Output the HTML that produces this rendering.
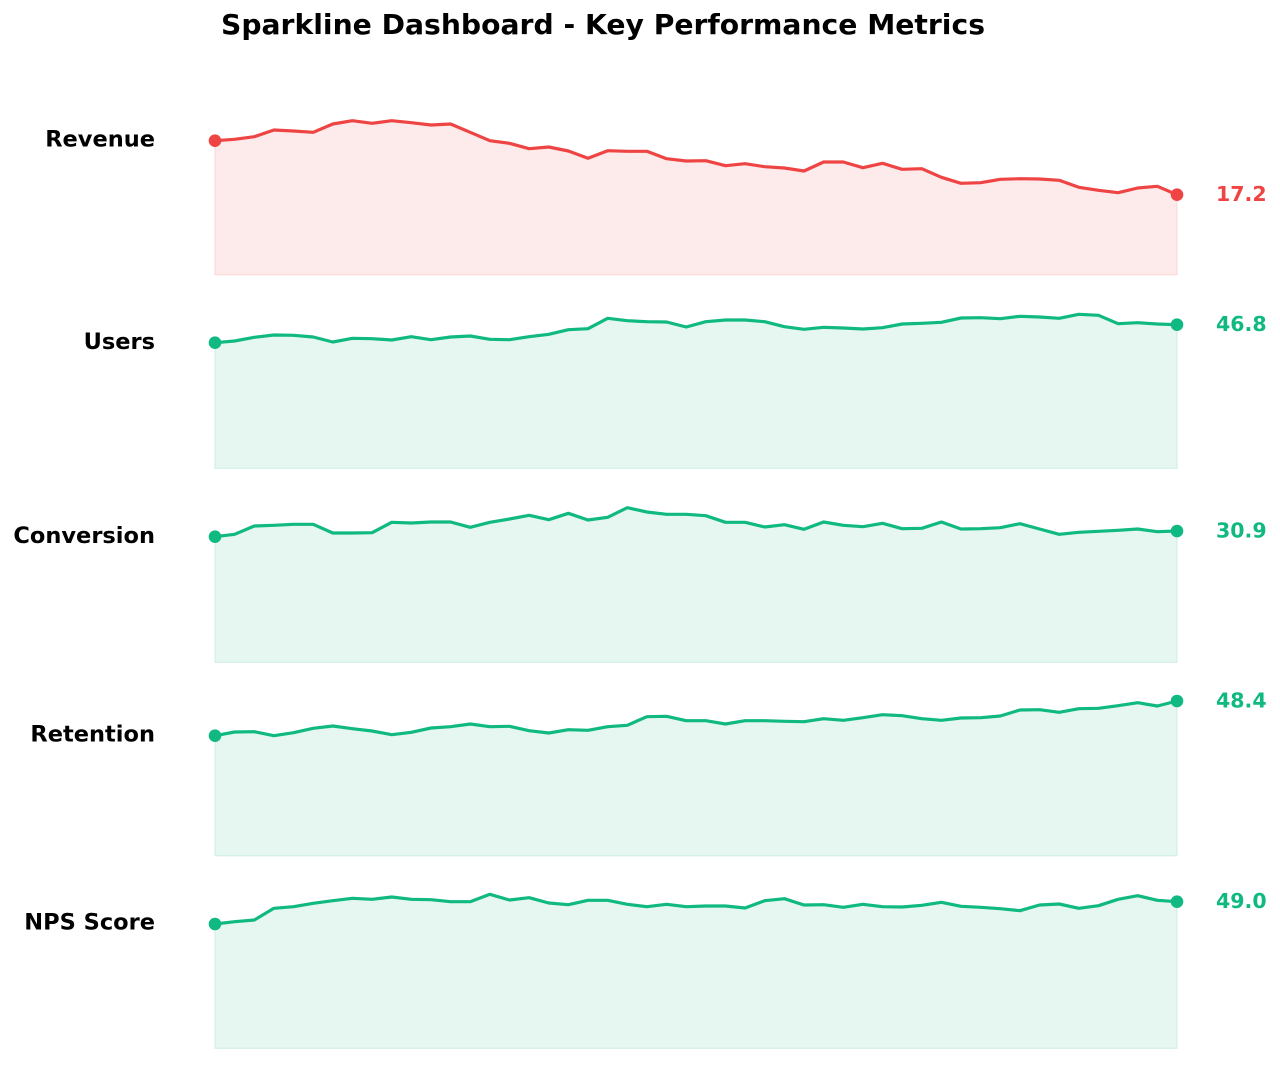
<!DOCTYPE html>
<html>
<head>
<meta charset="utf-8">
<style>
  html,body{margin:0;padding:0;background:#ffffff;}
  svg{display:block;}
  text{font-family:"DejaVu Sans","Liberation Sans",sans-serif;font-weight:bold;}
</style>
</head>
<body>
<svg width="1280" height="1070" viewBox="0 0 1280 1070" xmlns="http://www.w3.org/2000/svg">
  <rect x="0" y="0" width="1280" height="1070" fill="#ffffff"/>
  <text x="603" y="34" text-anchor="middle" font-size="27.5" fill="#000000" textLength="764" lengthAdjust="spacingAndGlyphs">Sparkline Dashboard - Key Performance Metrics</text>

  <!-- Revenue -->
  <polygon fill="#fdeaea" stroke="#fbd6d6" stroke-width="1" points="215.0,140.7 234.6,139.3 254.3,136.7 273.9,130 293.5,131 313.2,132.3 332.8,124 352.4,120.7 372.1,123.3 391.7,120.7 411.3,122.7 431.0,125 450.6,124 470.2,132.3 489.9,140.7 509.5,143.3 529.1,148.7 548.8,147 568.4,151 588.0,158.3 607.7,150.7 627.3,151.3 646.9,151.3 666.6,158.7 686.2,161 705.8,160.7 725.5,165.7 745.1,163.7 764.7,166.7 784.4,168 804.0,171 823.6,162 843.3,162 862.9,167.7 882.5,163.3 902.1,169.3 921.8,168.7 941.4,177.3 961.0,183.3 980.7,182.7 1000.3,179.3 1019.9,178.7 1039.6,179 1059.2,180.3 1078.8,187.3 1098.5,190.3 1118.1,192.7 1137.7,188 1157.4,186.3 1177.0,194.7 1177.0,274.7 215.0,274.7"/>
  <polyline fill="none" stroke="#ef4444" stroke-width="3.2" stroke-linejoin="round" stroke-linecap="round" points="215.0,140.7 234.6,139.3 254.3,136.7 273.9,130 293.5,131 313.2,132.3 332.8,124 352.4,120.7 372.1,123.3 391.7,120.7 411.3,122.7 431.0,125 450.6,124 470.2,132.3 489.9,140.7 509.5,143.3 529.1,148.7 548.8,147 568.4,151 588.0,158.3 607.7,150.7 627.3,151.3 646.9,151.3 666.6,158.7 686.2,161 705.8,160.7 725.5,165.7 745.1,163.7 764.7,166.7 784.4,168 804.0,171 823.6,162 843.3,162 862.9,167.7 882.5,163.3 902.1,169.3 921.8,168.7 941.4,177.3 961.0,183.3 980.7,182.7 1000.3,179.3 1019.9,178.7 1039.6,179 1059.2,180.3 1078.8,187.3 1098.5,190.3 1118.1,192.7 1137.7,188 1157.4,186.3 1177.0,194.7"/>
  <circle cx="215" cy="140.7" r="6.3" fill="#ef4444"/>
  <circle cx="1177" cy="194.7" r="6.3" fill="#ef4444"/>
  <text x="155" y="146.5" text-anchor="end" font-size="22.5" fill="#000000">Revenue</text>
  <text x="1216" y="201" font-size="20.5" fill="#ef4444">17.2</text>

  <!-- Users -->
  <polygon fill="#e5f7f0" stroke="#cdeee2" stroke-width="1" points="215.0,342.7 234.6,341 254.3,337.3 273.9,335 293.5,335.3 313.2,337 332.8,342 352.4,338.3 372.1,338.7 391.7,340 411.3,336.7 431.0,339.7 450.6,337 470.2,336 489.9,339.3 509.5,339.7 529.1,336.7 548.8,334.3 568.4,329.7 588.0,328.7 607.7,318.3 627.3,320.7 646.9,321.7 666.6,322 686.2,327 705.8,321.7 725.5,320 745.1,320 764.7,321.7 784.4,326.7 804.0,329.3 823.6,327.3 843.3,328 862.9,329 882.5,327.7 902.1,324 921.8,323.3 941.4,322.3 961.0,318 980.7,317.7 1000.3,318.7 1019.9,316.3 1039.6,317 1059.2,318.3 1078.8,314.3 1098.5,315.3 1118.1,323.7 1137.7,322.7 1157.4,324 1177.0,324.7 1177.0,468.3 215.0,468.3"/>
  <polyline fill="none" stroke="#10b981" stroke-width="3.2" stroke-linejoin="round" stroke-linecap="round" points="215.0,342.7 234.6,341 254.3,337.3 273.9,335 293.5,335.3 313.2,337 332.8,342 352.4,338.3 372.1,338.7 391.7,340 411.3,336.7 431.0,339.7 450.6,337 470.2,336 489.9,339.3 509.5,339.7 529.1,336.7 548.8,334.3 568.4,329.7 588.0,328.7 607.7,318.3 627.3,320.7 646.9,321.7 666.6,322 686.2,327 705.8,321.7 725.5,320 745.1,320 764.7,321.7 784.4,326.7 804.0,329.3 823.6,327.3 843.3,328 862.9,329 882.5,327.7 902.1,324 921.8,323.3 941.4,322.3 961.0,318 980.7,317.7 1000.3,318.7 1019.9,316.3 1039.6,317 1059.2,318.3 1078.8,314.3 1098.5,315.3 1118.1,323.7 1137.7,322.7 1157.4,324 1177.0,324.7"/>
  <circle cx="215" cy="342.7" r="6.3" fill="#10b981"/>
  <circle cx="1177" cy="324.7" r="6.3" fill="#10b981"/>
  <text x="155" y="349" text-anchor="end" font-size="22.5" fill="#000000">Users</text>
  <text x="1216" y="331" font-size="20.5" fill="#10b981">46.8</text>

  <!-- Conversion -->
  <polygon fill="#e5f7f0" stroke="#cdeee2" stroke-width="1" points="215.0,536.7 234.6,534.3 254.3,526 273.9,525.3 293.5,524.3 313.2,524.3 332.8,533 352.4,533 372.1,532.7 391.7,522.3 411.3,523 431.0,522 450.6,522 470.2,527.3 489.9,522.3 509.5,519 529.1,515.3 548.8,519.7 568.4,513.3 588.0,520 607.7,517.3 627.3,507.7 646.9,512 666.6,514.3 686.2,514.3 705.8,515.7 725.5,522.3 745.1,522.3 764.7,527 784.4,524.7 804.0,529.3 823.6,522 843.3,525.3 862.9,526.7 882.5,523.3 902.1,528.7 921.8,528.3 941.4,522 961.0,529 980.7,528.7 1000.3,527.7 1019.9,523.7 1039.6,529 1059.2,534.3 1078.8,532.3 1098.5,531.3 1118.1,530.3 1137.7,529 1157.4,531.7 1177.0,531 1177.0,662.3 215.0,662.3"/>
  <polyline fill="none" stroke="#10b981" stroke-width="3.2" stroke-linejoin="round" stroke-linecap="round" points="215.0,536.7 234.6,534.3 254.3,526 273.9,525.3 293.5,524.3 313.2,524.3 332.8,533 352.4,533 372.1,532.7 391.7,522.3 411.3,523 431.0,522 450.6,522 470.2,527.3 489.9,522.3 509.5,519 529.1,515.3 548.8,519.7 568.4,513.3 588.0,520 607.7,517.3 627.3,507.7 646.9,512 666.6,514.3 686.2,514.3 705.8,515.7 725.5,522.3 745.1,522.3 764.7,527 784.4,524.7 804.0,529.3 823.6,522 843.3,525.3 862.9,526.7 882.5,523.3 902.1,528.7 921.8,528.3 941.4,522 961.0,529 980.7,528.7 1000.3,527.7 1019.9,523.7 1039.6,529 1059.2,534.3 1078.8,532.3 1098.5,531.3 1118.1,530.3 1137.7,529 1157.4,531.7 1177.0,531"/>
  <circle cx="215" cy="536.7" r="6.3" fill="#10b981"/>
  <circle cx="1177" cy="531" r="6.3" fill="#10b981"/>
  <text x="155" y="543" text-anchor="end" font-size="22.5" fill="#000000">Conversion</text>
  <text x="1216" y="537.5" font-size="20.5" fill="#10b981">30.9</text>

  <!-- Retention -->
  <polygon fill="#e5f7f0" stroke="#cdeee2" stroke-width="1" points="215.0,735.7 234.6,732 254.3,731.7 273.9,735.7 293.5,732.7 313.2,728.3 332.8,726 352.4,728.7 372.1,731 391.7,734.7 411.3,732.3 431.0,728 450.6,726.7 470.2,724 489.9,726.7 509.5,726.3 529.1,730.7 548.8,733 568.4,729.7 588.0,730.3 607.7,726.7 627.3,725.3 646.9,716.7 666.6,716.3 686.2,720.7 705.8,720.7 725.5,724 745.1,720.7 764.7,720.7 784.4,721.3 804.0,721.7 823.6,718.7 843.3,720.3 862.9,717.7 882.5,714.7 902.1,715.7 921.8,718.7 941.4,720.3 961.0,718 980.7,717.7 1000.3,716 1019.9,710 1039.6,709.7 1059.2,712.3 1078.8,708.7 1098.5,708.3 1118.1,705.7 1137.7,702.7 1157.4,706 1177.0,701 1177.0,855.7 215.0,855.7"/>
  <polyline fill="none" stroke="#10b981" stroke-width="3.2" stroke-linejoin="round" stroke-linecap="round" points="215.0,735.7 234.6,732 254.3,731.7 273.9,735.7 293.5,732.7 313.2,728.3 332.8,726 352.4,728.7 372.1,731 391.7,734.7 411.3,732.3 431.0,728 450.6,726.7 470.2,724 489.9,726.7 509.5,726.3 529.1,730.7 548.8,733 568.4,729.7 588.0,730.3 607.7,726.7 627.3,725.3 646.9,716.7 666.6,716.3 686.2,720.7 705.8,720.7 725.5,724 745.1,720.7 764.7,720.7 784.4,721.3 804.0,721.7 823.6,718.7 843.3,720.3 862.9,717.7 882.5,714.7 902.1,715.7 921.8,718.7 941.4,720.3 961.0,718 980.7,717.7 1000.3,716 1019.9,710 1039.6,709.7 1059.2,712.3 1078.8,708.7 1098.5,708.3 1118.1,705.7 1137.7,702.7 1157.4,706 1177.0,701"/>
  <circle cx="215" cy="735.7" r="6.3" fill="#10b981"/>
  <circle cx="1177" cy="701" r="6.3" fill="#10b981"/>
  <text x="155" y="741.5" text-anchor="end" font-size="22.5" fill="#000000">Retention</text>
  <text x="1216" y="707.5" font-size="20.5" fill="#10b981">48.4</text>

  <!-- NPS Score -->
  <polygon fill="#e5f7f0" stroke="#cdeee2" stroke-width="1" points="215.0,924 234.6,921.7 254.3,920 273.9,908.3 293.5,906.7 313.2,903.3 332.8,900.7 352.4,898.3 372.1,899.3 391.7,897 411.3,899.3 431.0,899.7 450.6,901.7 470.2,901.7 489.9,894.3 509.5,900 529.1,897.7 548.8,903 568.4,904.7 588.0,900.3 607.7,900.3 627.3,904.3 646.9,906.7 666.6,904.3 686.2,906.7 705.8,906 725.5,906 745.1,908 764.7,900.7 784.4,898.7 804.0,905 823.6,904.7 843.3,907.3 862.9,904.3 882.5,906.7 902.1,907 921.8,905.3 941.4,902.3 961.0,906.3 980.7,907.3 1000.3,908.7 1019.9,910.7 1039.6,905 1059.2,904 1078.8,908.3 1098.5,905.7 1118.1,899.3 1137.7,895.7 1157.4,900.3 1177.0,901.7 1177.0,1048.3 215.0,1048.3"/>
  <polyline fill="none" stroke="#10b981" stroke-width="3.2" stroke-linejoin="round" stroke-linecap="round" points="215.0,924 234.6,921.7 254.3,920 273.9,908.3 293.5,906.7 313.2,903.3 332.8,900.7 352.4,898.3 372.1,899.3 391.7,897 411.3,899.3 431.0,899.7 450.6,901.7 470.2,901.7 489.9,894.3 509.5,900 529.1,897.7 548.8,903 568.4,904.7 588.0,900.3 607.7,900.3 627.3,904.3 646.9,906.7 666.6,904.3 686.2,906.7 705.8,906 725.5,906 745.1,908 764.7,900.7 784.4,898.7 804.0,905 823.6,904.7 843.3,907.3 862.9,904.3 882.5,906.7 902.1,907 921.8,905.3 941.4,902.3 961.0,906.3 980.7,907.3 1000.3,908.7 1019.9,910.7 1039.6,905 1059.2,904 1078.8,908.3 1098.5,905.7 1118.1,899.3 1137.7,895.7 1157.4,900.3 1177.0,901.7"/>
  <circle cx="215" cy="924" r="6.3" fill="#10b981"/>
  <circle cx="1177" cy="901.7" r="6.3" fill="#10b981"/>
  <text x="155" y="929.5" text-anchor="end" font-size="22.5" fill="#000000">NPS Score</text>
  <text x="1216" y="908" font-size="20.5" fill="#10b981">49.0</text>
</svg>
</body>
</html>
